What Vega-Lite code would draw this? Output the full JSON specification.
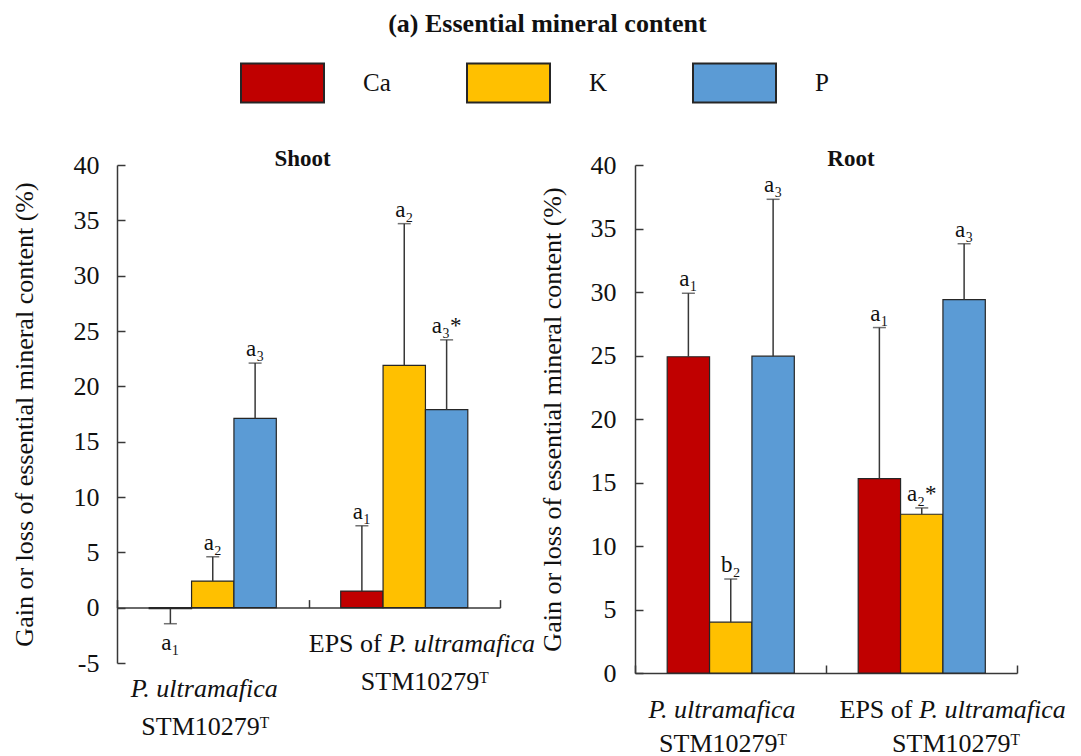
{
  "$schema": "https://vega.github.io/schema/vega-lite/v6.json",
  "background": "white",
  "padding": {"left": 10, "top": 11, "right": 5, "bottom": 5},
  "title": {"text": "(a) Essential mineral content", "fontSize": 26, "fontWeight": "bold", "font": "Liberation Serif", "anchor": "middle", "offset": 3, "dx": 9, "color": "#111111"},
  "config": {
    "font": "Liberation Serif",
    "view": {"stroke": null},
    "style": {
      "guide-label": {"font": "Liberation Serif, serif"},
      "guide-title": {"font": "Liberation Serif, serif"}
    },
    "axis": {"domainColor": "#383838", "domainWidth": 1.5, "tickColor": "#383838", "tickWidth": 1.5, "labelColor": "#111111", "titleColor": "#111111", "labelFont": "Liberation Serif, serif", "titleFont": "Liberation Serif, serif", "labelFontSize": 26, "titleFontSize": 26, "titleFontWeight": "normal", "grid": false}
  },
  "bounds": "flush",
  "spacing": 135,
  "datasets": {
    "bars": [
      {"panel": "Shoot", "group": "G1", "mineral": "Ca", "value": -0.1, "hi": -1.45, "label": "a₁"},
      {"panel": "Shoot", "group": "G1", "mineral": "K", "value": 2.4, "hi": 4.6, "label": "a₂"},
      {"panel": "Shoot", "group": "G1", "mineral": "P", "value": 17.1, "hi": 22.1, "label": "a₃"},
      {"panel": "Shoot", "group": "G2", "mineral": "Ca", "value": 1.5, "hi": 7.4, "label": "a₁"},
      {"panel": "Shoot", "group": "G2", "mineral": "K", "value": 21.9, "hi": 34.7, "label": "a₂"},
      {"panel": "Shoot", "group": "G2", "mineral": "P", "value": 17.9, "hi": 24.2, "label": "a₃*"},
      {"panel": "Root", "group": "G1", "mineral": "Ca", "value": 24.9, "hi": 29.9, "label": "a₁"},
      {"panel": "Root", "group": "G1", "mineral": "K", "value": 4.0, "hi": 7.4, "label": "b₂"},
      {"panel": "Root", "group": "G1", "mineral": "P", "value": 24.95, "hi": 37.3, "label": "a₃"},
      {"panel": "Root", "group": "G2", "mineral": "Ca", "value": 15.3, "hi": 27.2, "label": "a₁"},
      {"panel": "Root", "group": "G2", "mineral": "K", "value": 12.5, "hi": 13.0, "label": "a₂*"},
      {"panel": "Root", "group": "G2", "mineral": "P", "value": 29.4, "hi": 33.8, "label": "a₃"}
    ],
    "xlab": [
      {"panel": "Shoot", "group": "G1", "part": "it", "text": "P. ultramafica"},
      {"panel": "Shoot", "group": "G2", "part": "eps", "text": "EPS of"},
      {"panel": "Shoot", "group": "G2", "part": "it", "text": "P. ultramafica"},
      {"panel": "Root", "group": "G1", "part": "it", "text": "P. ultramafica"},
      {"panel": "Root", "group": "G2", "part": "eps", "text": "EPS of"},
      {"panel": "Root", "group": "G2", "part": "it", "text": "P. ultramafica"}
    ]
  },
  "hconcat": [
    {
      "width": 383,
      "height": 498,
      "title": {"text": "Shoot", "font": "Liberation Serif", "fontSize": 23, "fontWeight": "bold", "frame": "group", "baseline": "alphabetic", "offset": -37, "dx": -6, "anchor": "middle", "color": "#111111"},
      "layer": [
        {
          "data": {"name": "bars"},
          "transform": [{"filter": "datum.panel === 'Shoot'"}],
          "mark": {"type": "bar", "stroke": "#262626", "strokeWidth": 1.2},
          "encoding": {
            "x": {"field": "group", "type": "nominal", "sort": ["G1", "G2"], "scale": {"paddingInner": 0, "paddingOuter": 0},
              "axis": {"title": null, "labelFont": "Liberation Serif, serif", "labelFontSize": 26, "offset": -55.4, "tickBand": "extent", "tickSize": -8, "labelAngle": 0, "labelExpr": "datum.value === 'G1' || datum.value === 'G2' ? 'STM10279ᵀ' : ''", "labelBaseline": "middle", "labelOverlap": false, "labelFlush": false,
                "labelPadding": {"condition": {"test": "datum.value === 'G1'", "value": 127}, "value": 82},
                "labelOffset": {"condition": {"test": "datum.value === 'G1'", "value": -8}, "value": 20}}},
            "xOffset": {"field": "mineral", "type": "nominal", "sort": ["Ca", "K", "P"], "scale": {"paddingInner": 0, "paddingOuter": 0.76}},
            "y": {"field": "value", "type": "quantitative", "scale": {"domain": [-5, 40], "nice": false, "zero": false},
              "axis": {"title": "Gain or loss of essential mineral content (%)", "labelFont": "Liberation Serif, serif", "titleFont": "Liberation Serif, serif", "labelFontSize": 26, "titleFontSize": 26, "labelExpr": "'' + datum.value", "values": [-5, 0, 5, 10, 15, 20, 25, 30, 35, 40], "tickSize": -8, "labelPadding": 26, "titlePadding": 36}},
            "color": {"field": "mineral", "type": "nominal", "sort": ["Ca", "K", "P"], "scale": {"domain": ["Ca", "K", "P"], "range": ["#C00000", "#FFC000", "#5B9BD5"]},
              "legend": {"orient": "none", "legendX": 123, "legendY": -125, "direction": "horizontal", "columns": 3, "title": null, "symbolType": "M-1,-0.47L1,-0.47L1,0.47L-1,0.47Z", "symbolSize": 6889, "symbolStrokeColor": "#262626", "symbolStrokeWidth": 2, "symbolOpacity": 1, "labelFont": "Liberation Serif", "labelFontSize": 25, "labelColor": "#111111", "labelOffset": 38, "columnPadding": 72, "gridAlign": "all", "padding": 0}}
          }
        },
        {
          "data": {"name": "bars"},
          "transform": [{"filter": "datum.panel === 'Shoot'"}],
          "mark": {"type": "rule", "color": "#383838", "strokeWidth": 1.5},
          "encoding": {
            "x": {"field": "group", "type": "nominal", "sort": ["G1", "G2"]},
            "xOffset": {"field": "mineral", "type": "nominal", "sort": ["Ca", "K", "P"]},
            "y": {"field": "value", "type": "quantitative"},
            "y2": {"field": "hi"}
          }
        },
        {
          "data": {"name": "bars"},
          "transform": [{"filter": "datum.panel === 'Shoot'"}],
          "mark": {"type": "tick", "color": "#383838", "thickness": 1.5},
          "encoding": {
            "x": {"field": "group", "type": "nominal", "sort": ["G1", "G2"]},
            "xOffset": {"field": "mineral", "type": "nominal", "sort": ["Ca", "K", "P"]},
            "y": {"field": "hi", "type": "quantitative"},
            "size": {"value": 13}
          }
        },
        {
          "data": {"name": "bars"},
          "transform": [{"filter": "datum.panel === 'Shoot' && datum.hi >= 0"}],
          "mark": {"type": "text", "font": "Liberation Serif", "baseline": "alphabetic", "dy": -7, "fontSize": 23, "color": "#111111"},
          "encoding": {
            "x": {"field": "group", "type": "nominal", "sort": ["G1", "G2"]},
            "xOffset": {"field": "mineral", "type": "nominal", "sort": ["Ca", "K", "P"]},
            "y": {"field": "hi", "type": "quantitative"},
            "text": {"field": "label"}
          }
        },
        {
          "data": {"name": "bars"},
          "transform": [{"filter": "datum.panel === 'Shoot' && datum.hi < 0"}],
          "mark": {"type": "text", "font": "Liberation Serif", "baseline": "alphabetic", "dy": 26, "fontSize": 23, "color": "#111111"},
          "encoding": {
            "x": {"field": "group", "type": "nominal", "sort": ["G1", "G2"]},
            "xOffset": {"field": "mineral", "type": "nominal", "sort": ["Ca", "K", "P"]},
            "y": {"field": "hi", "type": "quantitative"},
            "text": {"field": "label"}
          }
        },
        {
          "data": {"name": "xlab"},
          "transform": [{"filter": "datum.panel === 'Shoot' && datum.group === 'G1'"}],
          "mark": {"type": "text", "font": "Liberation Serif", "fontSize": 26, "fontStyle": "italic", "baseline": "middle", "align": "center", "dx": -8.5, "color": "#111111"},
          "encoding": {
            "x": {"field": "group", "type": "nominal", "sort": ["G1", "G2"]},
            "y": {"datum": -7.34, "type": "quantitative"},
            "text": {"field": "text"}
          }
        },
        {
          "data": {"name": "xlab"},
          "transform": [{"filter": "datum.panel === 'Shoot' && datum.group === 'G2' && datum.part === 'eps'"}],
          "mark": {"type": "text", "font": "Liberation Serif", "fontSize": 26, "baseline": "middle", "align": "right", "dx": -22.5, "color": "#111111"},
          "encoding": {
            "x": {"field": "group", "type": "nominal", "sort": ["G1", "G2"]},
            "y": {"datum": -3.28, "type": "quantitative"},
            "text": {"field": "text"}
          }
        },
        {
          "data": {"name": "xlab"},
          "transform": [{"filter": "datum.panel === 'Shoot' && datum.group === 'G2' && datum.part === 'it'"}],
          "mark": {"type": "text", "font": "Liberation Serif", "fontSize": 26, "fontStyle": "italic", "baseline": "middle", "align": "left", "dx": -16, "color": "#111111"},
          "encoding": {
            "x": {"field": "group", "type": "nominal", "sort": ["G1", "G2"]},
            "y": {"datum": -3.28, "type": "quantitative"},
            "text": {"field": "text"}
          }
        }
      ]
    },
    {
      "width": 382,
      "height": 508,
      "title": {"text": "Root", "font": "Liberation Serif", "fontSize": 23, "fontWeight": "bold", "frame": "group", "baseline": "alphabetic", "offset": -37, "dx": 25, "anchor": "middle", "color": "#111111"},
      "layer": [
        {
          "data": {"name": "bars"},
          "transform": [{"filter": "datum.panel === 'Root'"}],
          "mark": {"type": "bar", "stroke": "#262626", "strokeWidth": 1.2},
          "encoding": {
            "x": {"field": "group", "type": "nominal", "sort": ["G1", "G2"], "scale": {"paddingInner": 0, "paddingOuter": 0},
              "axis": {"title": null, "labelFont": "Liberation Serif, serif", "labelFontSize": 26, "offset": 0, "tickBand": "extent", "tickSize": -8, "labelAngle": 0, "labelExpr": "datum.value === 'G1' || datum.value === 'G2' ? 'STM10279ᵀ' : ''", "labelBaseline": "middle", "labelOverlap": false, "labelFlush": false,
                "labelPadding": 78.5,
                "labelOffset": {"condition": {"test": "datum.value === 'G1'", "value": -8}, "value": 34}}},
            "xOffset": {"field": "mineral", "type": "nominal", "sort": ["Ca", "K", "P"], "scale": {"paddingInner": 0, "paddingOuter": 0.76}},
            "y": {"field": "value", "type": "quantitative", "scale": {"domain": [0, 40], "nice": false, "zero": false},
              "axis": {"title": "Gain or loss of essential mineral content (%)", "labelFont": "Liberation Serif, serif", "titleFont": "Liberation Serif, serif", "labelFontSize": 26, "titleFontSize": 26, "labelExpr": "'' + datum.value", "values": [0, 5, 10, 15, 20, 25, 30, 35, 40], "tickSize": -8, "labelPadding": 27, "titlePadding": 25}},
            "color": {"field": "mineral", "type": "nominal", "sort": ["Ca", "K", "P"], "scale": {"domain": ["Ca", "K", "P"], "range": ["#C00000", "#FFC000", "#5B9BD5"]},
              "legend": {"orient": "none", "legendX": 123, "legendY": -125, "direction": "horizontal", "columns": 3, "title": null, "symbolType": "M-1,-0.47L1,-0.47L1,0.47L-1,0.47Z", "symbolSize": 6889, "symbolStrokeColor": "#262626", "symbolStrokeWidth": 2, "symbolOpacity": 1, "labelFont": "Liberation Serif", "labelFontSize": 25, "labelColor": "#111111", "labelOffset": 38, "columnPadding": 72, "gridAlign": "all", "padding": 0}}
          }
        },
        {
          "data": {"name": "bars"},
          "transform": [{"filter": "datum.panel === 'Root'"}],
          "mark": {"type": "rule", "color": "#383838", "strokeWidth": 1.5},
          "encoding": {
            "x": {"field": "group", "type": "nominal", "sort": ["G1", "G2"]},
            "xOffset": {"field": "mineral", "type": "nominal", "sort": ["Ca", "K", "P"]},
            "y": {"field": "value", "type": "quantitative"},
            "y2": {"field": "hi"}
          }
        },
        {
          "data": {"name": "bars"},
          "transform": [{"filter": "datum.panel === 'Root'"}],
          "mark": {"type": "tick", "color": "#383838", "thickness": 1.5},
          "encoding": {
            "x": {"field": "group", "type": "nominal", "sort": ["G1", "G2"]},
            "xOffset": {"field": "mineral", "type": "nominal", "sort": ["Ca", "K", "P"]},
            "y": {"field": "hi", "type": "quantitative"},
            "size": {"value": 13}
          }
        },
        {
          "data": {"name": "bars"},
          "transform": [{"filter": "datum.panel === 'Root'"}],
          "mark": {"type": "text", "font": "Liberation Serif", "baseline": "alphabetic", "dy": -7, "fontSize": 23, "color": "#111111"},
          "encoding": {
            "x": {"field": "group", "type": "nominal", "sort": ["G1", "G2"]},
            "xOffset": {"field": "mineral", "type": "nominal", "sort": ["Ca", "K", "P"]},
            "y": {"field": "hi", "type": "quantitative"},
            "text": {"field": "label"}
          }
        },
        {
          "data": {"name": "xlab"},
          "transform": [{"filter": "datum.panel === 'Root' && datum.group === 'G1'"}],
          "mark": {"type": "text", "font": "Liberation Serif", "fontSize": 26, "fontStyle": "italic", "baseline": "middle", "align": "center", "dx": -8.5, "color": "#111111"},
          "encoding": {
            "x": {"field": "group", "type": "nominal", "sort": ["G1", "G2"]},
            "y": {"datum": -2.88, "type": "quantitative"},
            "text": {"field": "text"}
          }
        },
        {
          "data": {"name": "xlab"},
          "transform": [{"filter": "datum.panel === 'Root' && datum.group === 'G2' && datum.part === 'eps'"}],
          "mark": {"type": "text", "font": "Liberation Serif", "fontSize": 26, "baseline": "middle", "align": "right", "dx": -9, "color": "#111111"},
          "encoding": {
            "x": {"field": "group", "type": "nominal", "sort": ["G1", "G2"]},
            "y": {"datum": -2.88, "type": "quantitative"},
            "text": {"field": "text"}
          }
        },
        {
          "data": {"name": "xlab"},
          "transform": [{"filter": "datum.panel === 'Root' && datum.group === 'G2' && datum.part === 'it'"}],
          "mark": {"type": "text", "font": "Liberation Serif", "fontSize": 26, "fontStyle": "italic", "baseline": "middle", "align": "left", "dx": -2.5, "color": "#111111"},
          "encoding": {
            "x": {"field": "group", "type": "nominal", "sort": ["G1", "G2"]},
            "y": {"datum": -2.88, "type": "quantitative"},
            "text": {"field": "text"}
          }
        }
      ]
    }
  ]
}
